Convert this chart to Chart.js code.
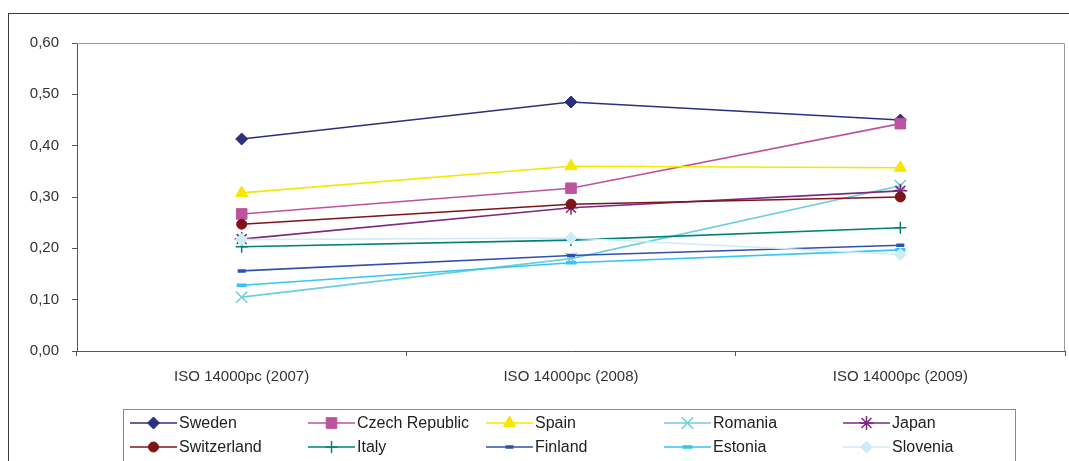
<!DOCTYPE html>
<html>
<head>
<meta charset="utf-8">
<script src="https://cdn.jsdelivr.net/npm/chart.js@4.4.1/dist/chart.umd.min.js"></script>
<style>
  html, body { margin: 0; padding: 0; background: #fff; }
  #wrap { position: relative; width: 1069px; height: 461px; }
</style>
</head>
<body>
<div id="wrap"><canvas id="chart"></canvas></div>
<script>
const categories = ["ISO 14000pc (2007)", "ISO 14000pc (2008)", "ISO 14000pc (2009)"];
const yTicks = [0, 0.1, 0.2, 0.3, 0.4, 0.5, 0.6];

const sweden = [0.413, 0.485, 0.450];
const czechRepublic = [0.267, 0.317, 0.443];
const spain = [0.308, 0.360, 0.357];
const romania = [0.105, 0.180, 0.322];
const japan = [0.218, 0.279, 0.312];
const switzerland = [0.247, 0.286, 0.300];
const italy = [0.203, 0.216, 0.240];
const finland = [0.156, 0.186, 0.206];
const estonia = [0.128, 0.172, 0.197];
const slovenia = [0.217, 0.220, 0.188];

const seriesNames = ["Sweden", "Czech Republic", "Spain", "Romania", "Japan",
  "Switzerland", "Italy", "Finland", "Estonia", "Slovenia"];
const seriesValues = [sweden, czechRepublic, spain, romania, japan,
  switzerland, italy, finland, estonia, slovenia];

// marker look per series
const styles = [
  { color: "#2b2f7e", point: "rectRot", radius: 6, bw: 1 },
  { color: "#bd529f", point: "rect", radius: 7.5, bw: 1 },
  { color: "#f5e800", point: "triangle", radius: 7, bw: 1 },
  { color: "#6dcfdd", point: "crossRot", radius: 8, bw: 1.5 },
  { color: "#7b2a80", point: "star", radius: 7, bw: 1.5 },
  { color: "#7f1418", point: "circle", radius: 5, bw: 1 },
  { color: "#00817a", point: "cross", radius: 6, bw: 1.5 },
  { color: "#3050af", point: "line", radius: 4, bw: 3.5 },
  { color: "#33c6f4", point: "line", radius: 5, bw: 3.5 },
  { color: "#cfecf4", point: "rectRot", radius: 6, bw: 1 },
];

const datasets = seriesNames.map((name, i) => ({
  label: name,
  data: seriesValues[i],
  borderColor: styles[i].color,
  backgroundColor: styles[i].color,
  borderWidth: 1.6,
  pointStyle: styles[i].point,
  pointRadius: styles[i].radius,
  pointHoverRadius: styles[i].radius,
  pointBorderWidth: styles[i].bw,
  tension: 0,
  order: seriesNames.length - i,
}));

function formatTick(v) {
  return v.toFixed(2).replace(".", ",");
}

const framePlugin = {
  id: "frame",
  beforeDraw(chart) {
    const ctx = chart.ctx;
    ctx.save();
    ctx.fillStyle = "#fff";
    ctx.fillRect(0, 0, chart.width, chart.height);
    ctx.restore();
  },
  afterDraw(chart) {
    const ctx = chart.ctx;
    const a = chart.chartArea;
    ctx.save();
    // plot area top / right border
    ctx.strokeStyle = "#9a9a9a";
    ctx.lineWidth = 1;
    ctx.beginPath();
    ctx.moveTo(a.left, a.top + 0.5);
    ctx.lineTo(a.right - 0.5, a.top + 0.5);
    ctx.lineTo(a.right - 0.5, a.bottom);
    ctx.stroke();

    // outer frame
    ctx.strokeStyle = "#3a3a3a";
    ctx.strokeRect(8.5, 13.5, 1200, 600);

    // legend box
    ctx.strokeStyle = "#8a8a8a";
    ctx.strokeRect(123.5, 409.5, 892, 100);

    const colX = [130, 308, 486, 664, 843];
    const rowY = [423, 447];
    ctx.font = "16px 'Liberation Sans', Arial, sans-serif";
    ctx.textBaseline = "middle";
    seriesNames.forEach((name, i) => {
      const x = colX[i % 5];
      const y = rowY[Math.floor(i / 5)];
      const s = styles[i];
      ctx.strokeStyle = s.color;
      ctx.fillStyle = s.color;
      ctx.lineWidth = 1.6;
      ctx.beginPath();
      ctx.moveTo(x, y);
      ctx.lineTo(x + 47, y);
      ctx.stroke();
      ctx.lineWidth = s.bw;
      Chart.helpers.drawPoint(ctx, {
        pointStyle: s.point,
        radius: s.radius,
        rotation: 0,
        borderWidth: s.bw,
      }, x + 23.5, y);
      ctx.fillStyle = "#222";
      ctx.fillText(name, x + 49, y + 1);
    });
    ctx.restore();
  },
};

new Chart(document.getElementById("chart"), {
  type: "line",
  data: { labels: categories, datasets },
  options: {
    responsive: true,
    maintainAspectRatio: false,
    animation: false,
    devicePixelRatio: 1,
    layout: {
      autoPadding: false,
      padding: { left: 0, top: 43, right: 4, bottom: 0 },
    },
    plugins: {
      legend: { display: false },
      tooltip: { enabled: false },
    },
    scales: {
      x: {
        offset: true,
        grid: { offset: true, drawOnChartArea: false, tickLength: 5, color: "#555" },
        border: { color: "#555", width: 1 },
        ticks: {
          color: "#333",
          padding: 12,
          maxRotation: 0,
          font: { family: "'Liberation Sans', Arial, sans-serif", size: 15 },
        },
        afterFit(scale) {
          scale.height = 110;
          scale.paddingLeft = 0;
          scale.paddingRight = 0;
        },
      },
      y: {
        min: 0,
        max: 0.6,
        afterBuildTicks(scale) {
          scale.ticks = yTicks.map((v) => ({ value: v }));
        },
        grid: { drawOnChartArea: false, tickLength: 5, color: "#555" },
        border: { color: "#555", width: 1 },
        ticks: {
          color: "#333",
          padding: 13,
          callback: (v) => formatTick(v),
          font: { family: "'Liberation Sans', Arial, sans-serif", size: 15 },
        },
        afterFit(scale) { scale.width = 77; },
      },
    },
  },
  plugins: [framePlugin],
});
</script>
</body>
</html>
